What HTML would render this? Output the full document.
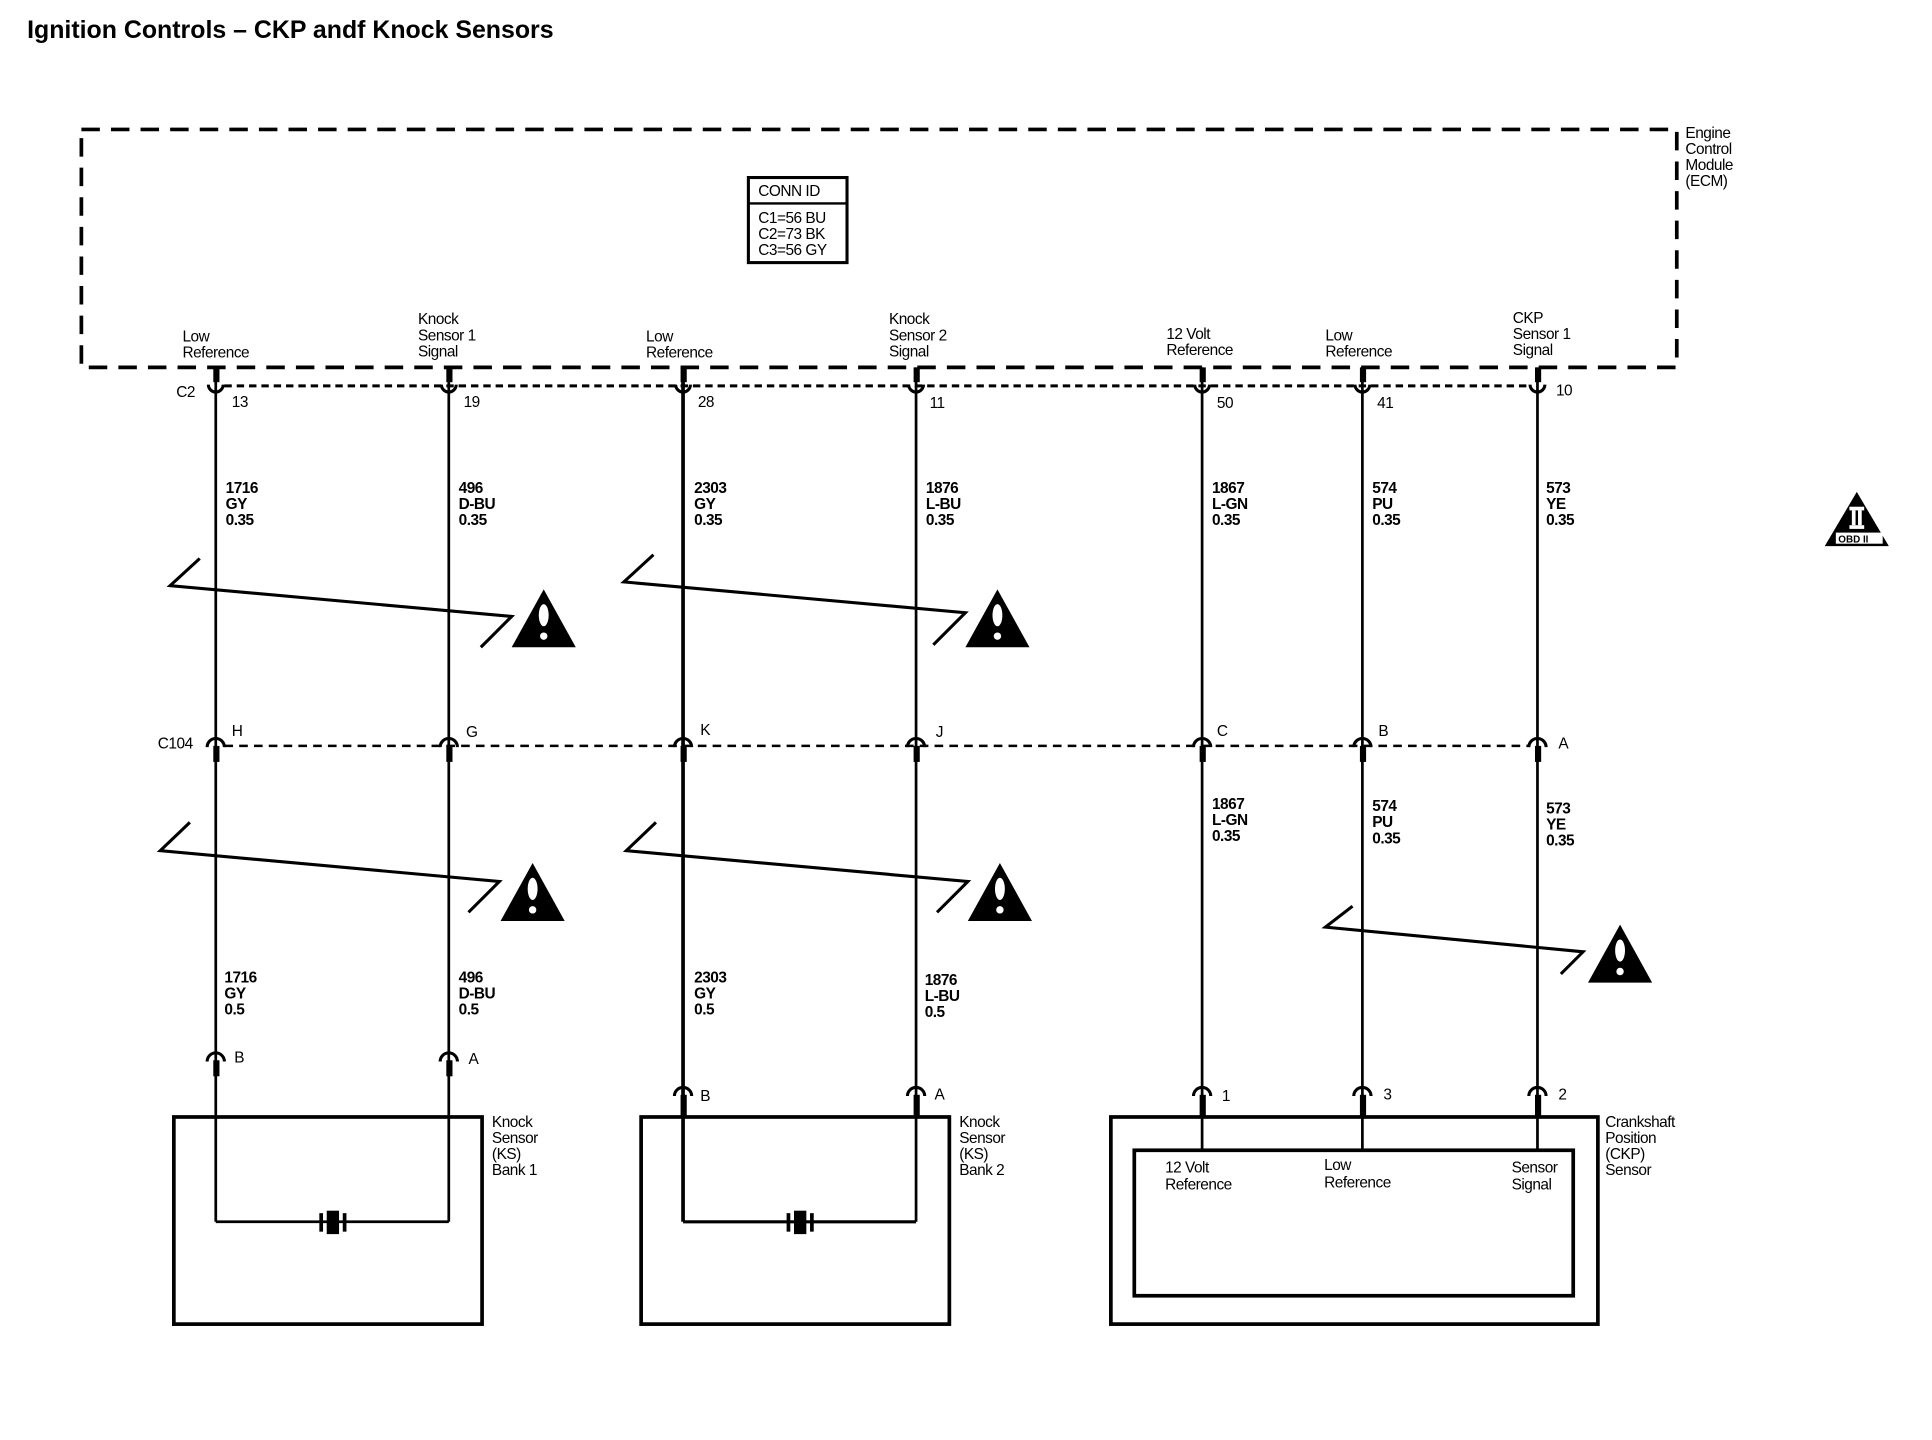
<!DOCTYPE html>
<html><head><meta charset="utf-8"><style>
html,body{margin:0;padding:0;background:#fff;}
svg{display:block;}
text{font-family:"Liberation Sans",sans-serif;font-size:12.5px;fill:#000;letter-spacing:-0.4px;}
.b{font-weight:bold;}
</style></head><body>
<svg width="1932" height="1440" viewBox="0 0 1567 1168" preserveAspectRatio="none" xmlns="http://www.w3.org/2000/svg">
<text x="22" y="31" class="b" style="font-size:20.2px;letter-spacing:0px">Ignition Controls – CKP andf Knock Sensors</text>

<rect x="66" y="105" width="1294" height="193" fill="none" stroke="#000" stroke-width="3" stroke-dasharray="15,9"/>
<text x="1367" y="112">Engine</text><text x="1367" y="125">Control</text><text x="1367" y="138">Module</text><text x="1367" y="151">(ECM)</text>
<rect x="607" y="144" width="80" height="69" fill="none" stroke="#000" stroke-width="2.5"/>
<line x1="607" y1="165" x2="687" y2="165" stroke="#000" stroke-width="2"/>
<text x="615" y="159">CONN ID</text>
<text x="615" y="181">C1=56 BU</text><text x="615" y="194">C2=73 BK</text><text x="615" y="207">C3=56 GY</text>

<text x="148" y="277">Low</text><text x="148" y="290">Reference</text>
<text x="339" y="263">Knock</text><text x="339" y="276">Sensor 1</text><text x="339" y="289">Signal</text>
<text x="524" y="277">Low</text><text x="524" y="290">Reference</text>
<text x="721" y="263">Knock</text><text x="721" y="276">Sensor 2</text><text x="721" y="289">Signal</text>
<text x="946" y="275">12 Volt</text><text x="946" y="288">Reference</text>
<text x="1075" y="276">Low</text><text x="1075" y="289">Reference</text>
<text x="1227" y="262">CKP</text><text x="1227" y="275">Sensor 1</text><text x="1227" y="288">Signal</text>

<line x1="182" y1="313" x2="1241" y2="313" stroke="#000" stroke-width="2.5" stroke-dasharray="6,4"/>
<text x="143" y="322">C2</text>
<g stroke="#000" fill="none">
<line x1="175" y1="298" x2="175" y2="991" stroke-width="2.2"/>
<line x1="364" y1="298" x2="364" y2="991" stroke-width="2.2"/>
<line x1="554" y1="298" x2="554" y2="991" stroke-width="3"/>
<line x1="743" y1="298" x2="743" y2="991" stroke-width="2.2"/>
<line x1="975" y1="298" x2="975" y2="933" stroke-width="2.2"/>
<line x1="1105" y1="298" x2="1105" y2="933" stroke-width="2.2"/>
<line x1="1247" y1="298" x2="1247" y2="933" stroke-width="2.2"/>
</g>
<g stroke="#000" fill="none" stroke-width="2.5">
<path d="M169 312 A6 6 0 0 0 181 312"/><path d="M358 312 A6 6 0 0 0 370 312"/><path d="M548 312 A6 6 0 0 0 560 312"/><path d="M737 312 A6 6 0 0 0 749 312"/><path d="M969 312 A6 6 0 0 0 981 312"/><path d="M1099 312 A6 6 0 0 0 1111 312"/><path d="M1241 312 A6 6 0 0 0 1253 312"/>
</g>
<g fill="#000">
<rect x="173" y="298" width="5" height="12"/><rect x="362" y="298" width="5" height="12"/><rect x="552" y="298" width="5" height="12"/><rect x="741" y="298" width="5" height="12"/><rect x="973" y="298" width="5" height="12"/><rect x="1103" y="298" width="5" height="12"/><rect x="1245" y="298" width="5" height="12"/>
</g>
<text x="188" y="330">13</text><text x="376" y="330">19</text><text x="566" y="330">28</text><text x="754" y="331">11</text><text x="987" y="331">50</text><text x="1117" y="331">41</text><text x="1262" y="321">10</text>

<g class="b">
<text x="183" y="400">1716</text><text x="183" y="413">GY</text><text x="183" y="426">0.35</text>
<text x="372" y="400">496</text><text x="372" y="413">D-BU</text><text x="372" y="426">0.35</text>
<text x="563" y="400">2303</text><text x="563" y="413">GY</text><text x="563" y="426">0.35</text>
<text x="751" y="400">1876</text><text x="751" y="413">L-BU</text><text x="751" y="426">0.35</text>
<text x="983" y="400">1867</text><text x="983" y="413">L-GN</text><text x="983" y="426">0.35</text>
<text x="1113" y="400">574</text><text x="1113" y="413">PU</text><text x="1113" y="426">0.35</text>
<text x="1254" y="400">573</text><text x="1254" y="413">YE</text><text x="1254" y="426">0.35</text>
</g>

<line x1="182" y1="605" x2="1241" y2="605" stroke="#000" stroke-width="2" stroke-dasharray="7,5"/>
<text x="128" y="607">C104</text>
<g stroke="#000" fill="none" stroke-width="2.5">
<path d="M168 606 A7 7 0 0 1 182 606"/><path d="M357 606 A7 7 0 0 1 371 606"/><path d="M547 606 A7 7 0 0 1 561 606"/><path d="M736 606 A7 7 0 0 1 750 606"/><path d="M968 606 A7 7 0 0 1 982 606"/><path d="M1098 606 A7 7 0 0 1 1112 606"/><path d="M1240 606 A7 7 0 0 1 1254 606"/>
</g>
<g fill="#000">
<rect x="173" y="605" width="5" height="13"/><rect x="362" y="605" width="5" height="13"/><rect x="552" y="605" width="5" height="13"/><rect x="741" y="605" width="5" height="13"/><rect x="973" y="605" width="5" height="13"/><rect x="1103" y="605" width="5" height="13"/><rect x="1245" y="605" width="5" height="13"/>
</g>
<text x="188" y="597">H</text><text x="378" y="598">G</text><text x="568" y="596">K</text><text x="759" y="598">J</text><text x="987" y="597">C</text><text x="1118" y="597">B</text><text x="1264" y="607">A</text>

<g class="b">
<text x="983" y="656">1867</text><text x="983" y="669">L-GN</text><text x="983" y="682">0.35</text>
<text x="1113" y="658">574</text><text x="1113" y="671">PU</text><text x="1113" y="684">0.35</text>
<text x="1254" y="660">573</text><text x="1254" y="673">YE</text><text x="1254" y="686">0.35</text>
<text x="182" y="797">1716</text><text x="182" y="810">GY</text><text x="182" y="823">0.5</text>
<text x="372" y="797">496</text><text x="372" y="810">D-BU</text><text x="372" y="823">0.5</text>
<text x="563" y="797">2303</text><text x="563" y="810">GY</text><text x="563" y="823">0.5</text>
<text x="750" y="799">1876</text><text x="750" y="812">L-BU</text><text x="750" y="825">0.5</text>
</g>

<g stroke="#000" fill="none" stroke-width="2.5">
<path d="M162 453 L138 475 L415 500 L390 525"/>
<path d="M530 450 L506 472 L783 497 L757 523"/>
<path d="M154 667 L130 690 L405 715 L380 740"/>
<path d="M532 667 L508 690 L785 715 L760 740"/>
<path d="M1097 735 L1075 752 L1284 772 L1266 790"/>
</g>
<g id="w">
<polygon points="441,478 467,525 415,525" fill="#000"/>
<ellipse cx="441" cy="499" rx="4" ry="9" fill="#fff"/><circle cx="441" cy="516" r="3" fill="#fff"/>
</g>
<use href="#w" transform="translate(368,0)"/>
<use href="#w" transform="translate(-9,222)"/>
<use href="#w" transform="translate(370,222)"/>
<use href="#w" transform="translate(873,272)"/>

<polygon points="1506,399 1532,443 1480,443" fill="#000"/>
<rect x="1500" y="411" width="12" height="3" fill="#fff"/>
<rect x="1502" y="414" width="3" height="12" fill="#fff"/><rect x="1507" y="414" width="3" height="12" fill="#fff"/>
<rect x="1500" y="426" width="12" height="3" fill="#fff"/>
<rect x="1489" y="432" width="38" height="9" fill="#fff"/>
<text x="1491" y="440" class="b" style="font-size:8px;letter-spacing:0">OBD II</text>

<g stroke="#000" fill="none" stroke-width="2.5">
<path d="M168 861 A7 7 0 0 1 182 861"/><path d="M357 861 A7 7 0 0 1 371 861"/>
<path d="M547 889 A7 7 0 0 1 561 889"/><path d="M736 889 A7 7 0 0 1 750 889"/>
<path d="M968 889 A7 7 0 0 1 982 889"/><path d="M1098 889 A7 7 0 0 1 1112 889"/><path d="M1240 889 A7 7 0 0 1 1254 889"/>
</g>
<g fill="#000">
<rect x="173" y="860" width="5" height="13"/><rect x="362" y="860" width="5" height="13"/>
<rect x="552" y="888" width="5" height="18"/><rect x="741" y="888" width="5" height="18"/>
<rect x="973" y="888" width="5" height="18"/><rect x="1103" y="888" width="5" height="18"/><rect x="1245" y="888" width="5" height="18"/>
</g>
<text x="190" y="862">B</text><text x="380" y="863">A</text>
<text x="568" y="893">B</text><text x="758" y="892">A</text>
<text x="991" y="893">1</text><text x="1122" y="892">3</text><text x="1264" y="892">2</text>

<g stroke="#000" fill="none">
<rect x="141" y="906" width="250" height="168" stroke-width="3"/>
<rect x="520" y="906" width="250" height="168" stroke-width="3"/>
<line x1="175" y1="991" x2="364" y2="991" stroke-width="2.2"/>
<line x1="554" y1="991" x2="743" y2="991" stroke-width="2.5"/>
<rect x="901" y="906" width="395" height="168" stroke-width="3"/>
<rect x="920" y="933" width="356" height="118" stroke-width="3"/>
</g>
<g fill="#000">
<rect x="259" y="984" width="3" height="15"/><rect x="265" y="982" width="10" height="19"/><rect x="278" y="984" width="3" height="15"/>
<rect x="638" y="984" width="3" height="15"/><rect x="644" y="982" width="10" height="19"/><rect x="657" y="984" width="3" height="15"/>
</g>
<text x="399" y="914">Knock</text><text x="399" y="927">Sensor</text><text x="399" y="940">(KS)</text><text x="399" y="953">Bank 1</text>
<text x="778" y="914">Knock</text><text x="778" y="927">Sensor</text><text x="778" y="940">(KS)</text><text x="778" y="953">Bank 2</text>
<text x="1302" y="914">Crankshaft</text><text x="1302" y="927">Position</text><text x="1302" y="940">(CKP)</text><text x="1302" y="953">Sensor</text>
<text x="945" y="951">12 Volt</text><text x="945" y="965">Reference</text>
<text x="1074" y="949">Low</text><text x="1074" y="963">Reference</text>
<text x="1226" y="951">Sensor</text><text x="1226" y="965">Signal</text>
</svg>
</body></html>
